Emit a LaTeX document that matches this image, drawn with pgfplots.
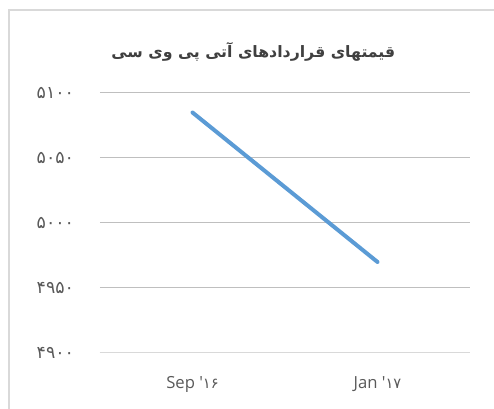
\documentclass[border=0pt]{standalone}
\usepackage{fontspec}
\usepackage{pgfplots}
\pgfplotsset{compat=1.18}
\TeXXeTstate=1
\setmainfont{Open Sans}
\newfontfamily\arabicfont[Script=Arabic]{DejaVu Sans}
\newfontfamily\digitfont{DejaVu Sans}
\definecolor{txt}{HTML}{595959}
\definecolor{ttl}{HTML}{404040}
\definecolor{grid}{HTML}{D9D9D9}
\definecolor{line}{HTML}{5B9BD5}
\begin{document}
\begin{tikzpicture}
\useasboundingbox (0,0) rectangle (370.5pt,306.75pt);
\draw[grid, line width=1.5pt] (6.375pt,0) -- (6.375pt,298.875pt) -- (370.5pt,298.875pt);
\node[ttl, anchor=center] at (190pt,268pt) {\fontsize{11.8}{14}\arabicfont\bfseries\beginR قیمتهای قراردادهای آتی پی وی سی\endR};
\begin{axis}[
  at={(75pt,42pt)}, anchor=south west,
  scale only axis, width=277.5pt, height=195pt,
  xmin=-0.5, xmax=1.5, ymin=4900, ymax=5100,
  xtick={0,1}, xticklabels={{Sep \textquotesingle{\digitfont\fontsize{11}{12}\selectfont ۱۶}},{Jan \textquotesingle{\digitfont\fontsize{11}{12}\selectfont ۱۷}}},
  ytick={4900,4950,5000,5050,5100},
  yticklabels={{۴۹۰۰},{۴۹۵۰},{۵۰۰۰},{۵۰۵۰},{۵۱۰۰}},
  xmajorgrids=false, ymajorgrids=true, grid style={grid, line width=0.75pt},
  axis x line*=bottom,
  axis y line*=left,
  x axis line style={draw=grid, line width=0.75pt, -},
  y axis line style={draw=none},
  xtick style={draw=none}, ytick style={draw=none},
  major tick length=0pt,
  xticklabel style={txt, font=\fontsize{12.5}{14}\selectfont, yshift=-14pt},
  yticklabel style={txt, font=\digitfont\fontsize{13}{14}\selectfont, xshift=-16pt},
  clip=false,
]
\addplot[line, line width=3pt, line cap=round] coordinates {(0,5085) (1,4970)};
\end{axis}
\end{tikzpicture}
\end{document}
